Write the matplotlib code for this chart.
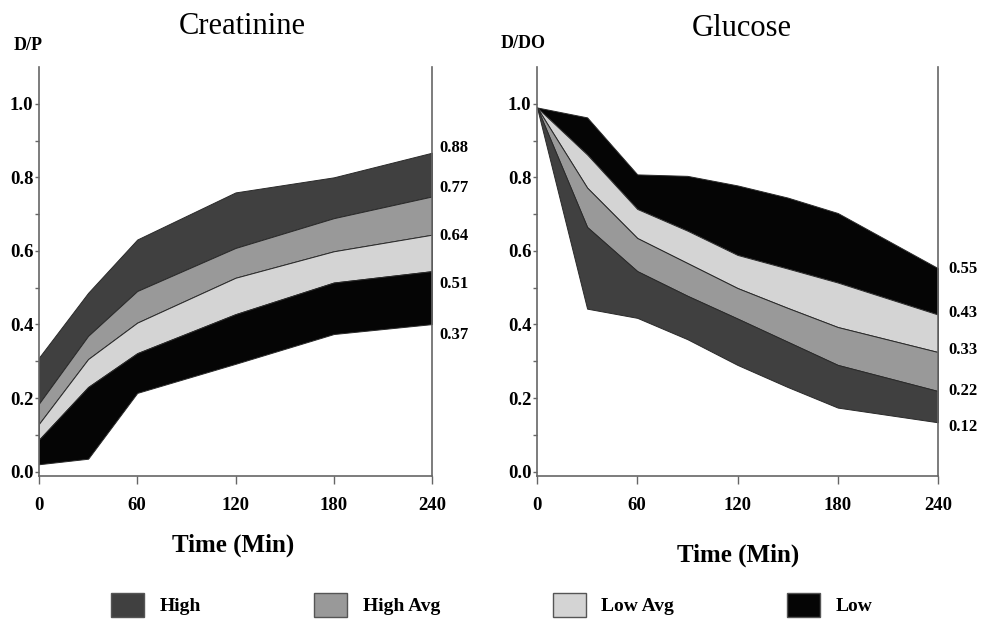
import matplotlib
matplotlib.use('Agg')
import matplotlib.pyplot as plt
from matplotlib.patches import Patch
from matplotlib.ticker import MultipleLocator, FixedLocator

plt.rcParams['font.family'] = ['Liberation Serif', 'DejaVu Serif']

# creatinine D/P band boundaries (top to bottom)
creat_time = [0, 30, 60, 120, 180, 240]
creat_high_top = [0.31, 0.486, 0.631, 0.759, 0.80, 0.867]
creat_high_havg = [0.185, 0.369, 0.491, 0.608, 0.689, 0.748]
creat_havg_lavg = [0.13, 0.306, 0.405, 0.527, 0.599, 0.644]
creat_lavg_low = [0.087, 0.23, 0.322, 0.428, 0.514, 0.545]
creat_low_bottom = [0.02, 0.035, 0.214, 0.293, 0.374, 0.401]
creat_labels = [0.88, 0.77, 0.64, 0.51, 0.37]

# glucose D/DO band boundaries (top to bottom)
gluc_time = [0, 30, 60, 90, 120, 150, 180, 240]
gluc_low_top = [0.99, 0.963, 0.808, 0.804, 0.778, 0.745, 0.703, 0.553]
gluc_low_lavg = [0.99, 0.862, 0.714, 0.655, 0.589, 0.552, 0.514, 0.427]
gluc_lavg_havg = [0.99, 0.772, 0.635, 0.567, 0.499, 0.445, 0.393, 0.325]
gluc_havg_high = [0.99, 0.665, 0.545, 0.478, 0.416, 0.353, 0.29, 0.219]
gluc_high_bottom = [0.99, 0.443, 0.418, 0.36, 0.29, 0.23, 0.174, 0.134]
gluc_labels = [0.55, 0.43, 0.33, 0.22, 0.12]

colors = {'High': '#404040', 'High Avg': '#999999', 'Low Avg': '#d4d4d4', 'Low': '#050505'}
edge = '#2a2a2a'
spine_col = '#666666'

fig = plt.figure(figsize=(9.82, 6.21), dpi=100)
ax1 = fig.add_axes([39/982, 1-476/621, 393/982, 409/621])
ax2 = fig.add_axes([537/982, 1-476/621, 401/982, 409/621])

# creatinine bands
ax1.fill_between(creat_time, creat_high_havg, creat_high_top, facecolor=colors['High'], edgecolor=edge, lw=0.7)
ax1.fill_between(creat_time, creat_havg_lavg, creat_high_havg, facecolor=colors['High Avg'], edgecolor=edge, lw=0.7)
ax1.fill_between(creat_time, creat_lavg_low, creat_havg_lavg, facecolor=colors['Low Avg'], edgecolor=edge, lw=0.7)
ax1.fill_between(creat_time, creat_low_bottom, creat_lavg_low, facecolor=colors['Low'], edgecolor=edge, lw=0.7)

# glucose bands
ax2.fill_between(gluc_time, gluc_low_lavg, gluc_low_top, facecolor=colors['Low'], edgecolor=edge, lw=0.7)
ax2.fill_between(gluc_time, gluc_lavg_havg, gluc_low_lavg, facecolor=colors['Low Avg'], edgecolor=edge, lw=0.7)
ax2.fill_between(gluc_time, gluc_havg_high, gluc_lavg_havg, facecolor=colors['High Avg'], edgecolor=edge, lw=0.7)
ax2.fill_between(gluc_time, gluc_high_bottom, gluc_havg_high, facecolor=colors['High'], edgecolor=edge, lw=0.7)

for ax, labels, xoff in [(ax1, creat_labels, 1.02), (ax2, gluc_labels, 1.025)]:
    ax.set_xlim(0, 240)
    ax.set_ylim(-0.012, 1.1)
    ax.spines['top'].set_visible(False)
    for s in ['left', 'right', 'bottom']:
        ax.spines[s].set_color(spine_col)
        ax.spines[s].set_linewidth(1.2)
    ax.set_xticks([0, 60, 120, 180, 240])
    ax.yaxis.set_major_locator(MultipleLocator(0.2))
    ax.yaxis.set_minor_locator(FixedLocator([0.1, 0.3, 0.5, 0.7, 0.9]))
    ax.set_yticks([0.0, 0.2, 0.4, 0.6, 0.8, 1.0])
    ax.set_yticklabels(['0.0', '0.2', '0.4', '0.6', '0.8', '1.0'])
    ax.tick_params(axis='x', direction='out', length=6, width=1, pad=9, color=spine_col,
                   labelsize=13.5)
    ax.tick_params(axis='y', which='major', direction='out', length=3, width=1, pad=1,
                   color=spine_col, labelsize=13.5)
    ax.tick_params(axis='y', which='minor', direction='out', length=3, width=1, color=spine_col)
    for lab in ax.get_xticklabels() + ax.get_yticklabels():
        lab.set_fontweight('bold')
    for v in labels:
        ax.text(xoff, v, f'{v:.2f}', transform=ax.get_yaxis_transform(), ha='left',
                va='center', fontsize=12, fontweight='bold')

fig.text(242/982, 1-26/621, 'Creatinine', ha='center', va='center', fontsize=22)
fig.text(742/982, 1-29/621, 'Glucose', ha='center', va='center', fontsize=22)
fig.text(28/982, 1-46/621, 'D/P', ha='center', va='center', fontsize=13, fontweight='bold')
fig.text(523/982, 1-44/621, 'D/DO', ha='center', va='center', fontsize=13, fontweight='bold')
fig.text(233/982, 1-545/621, 'Time (Min)', ha='center', va='center', fontsize=18, fontweight='bold')
fig.text(738/982, 1-555/621, 'Time (Min)', ha='center', va='center', fontsize=18, fontweight='bold')

handles = [Patch(facecolor=colors[k], edgecolor='#555555', label=k)
           for k in ['High', 'High Avg', 'Low Avg', 'Low']]
fig.legend(handles=handles, loc='center', bbox_to_anchor=(492/982, 1-605/621), ncol=4,
           frameon=False, prop={'weight': 'bold', 'size': 14}, handlelength=1.7,
           handleheight=1.5, handletextpad=0.8, columnspacing=5.8)

fig.savefig('out.png', dpi=100)
